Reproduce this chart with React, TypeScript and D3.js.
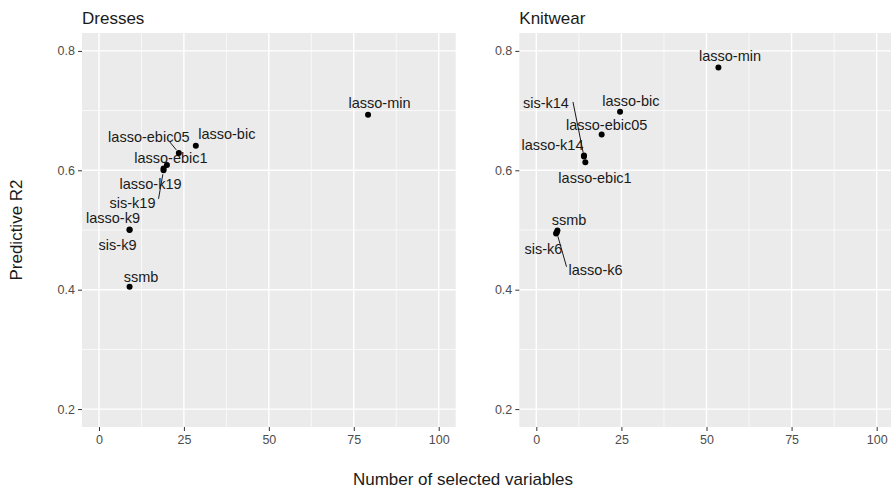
import React, { useEffect, useRef } from "react";
import * as d3 from "d3";

// facet titles
const panelTitles = ["Dresses", "Knitwear"];

// Dresses
const dressMethods = ["lasso-min", "lasso-bic", "lasso-ebic05", "lasso-ebic1", "lasso-k19", "sis-k19", "lasso-k9", "sis-k9", "ssmb"];
const dressVars = [79.2, 28.5, 23.5, 20, 19, 19, 9, 9, 9];
const dressR2 = [0.693, 0.641, 0.629, 0.609, 0.603, 0.6, 0.501, 0.5, 0.405];

// Knitwear
const knitMethods = ["lasso-min", "lasso-bic", "lasso-ebic05", "lasso-k14", "sis-k14", "lasso-ebic1", "ssmb", "sis-k6", "lasso-k6"];
const knitVars = [53.5, 24.6, 19.2, 14, 14, 14.4, 6.2, 5.8, 6];
const knitR2 = [0.772, 0.698, 0.66, 0.625, 0.623, 0.6135, 0.499, 0.494, 0.496];

const xTicks = [0, 25, 50, 75, 100];
const xMinor = [12.5, 37.5, 62.5, 87.5];
const yTicks = [0.2, 0.4, 0.6, 0.8];
const yMinor = [0.3, 0.5, 0.7];

// repel-like label placement: pixel offset of the label from its point,
// and where a leader segment attaches to the label (null = no segment)
type Nudge = [number, number, [number, number] | null];
const dressNudge: Nudge[] = [
  [11.5, -11.7, null], [31, -12, null], [-30, -16, [21, 5]], [4, -6.6, null], [-13, 15, null],
  [-31, 32.5, [26, -4]], [-16.6, -11, null], [-12, 14.6, null], [11.4, -10, null],
];
const knitNudge: Nudge[] = [
  [11.6, -12, null], [10.8, -11, null], [5, -10, null], [-31.5, -10.7, null], [-38, -53.6, [27, -1]],
  [9.7, 15.7, null], [11.6, -10.8, null], [-12.7, 15.2, null], [38.8, 37.4, [-29, -3]],
];

const W = 891;
const H = 489;
const FONT = "'Liberation Sans', Arial, sans-serif";
const panels = [
  { left: 82, right: 455.7, methods: dressMethods, xs: dressVars, ys: dressR2, nudge: dressNudge },
  { left: 519.3, right: 893.7, methods: knitMethods, xs: knitVars, ys: knitR2, nudge: knitNudge },
];
const top = 33;
const bottom = 427;

const App = () => {
  const ref = useRef<SVGSVGElement>(null);

  useEffect(() => {
    const svg = d3.select(ref.current);
    svg.selectAll("*").remove();
    svg.append("rect").attr("width", W).attr("height", H).attr("fill", "white");

    panels.forEach((p, pi) => {
      const x = d3.scaleLinear().domain([-5, 105]).range([p.left, p.right]);
      const y = d3.scaleLinear().domain([0.17, 0.83]).range([bottom, top]);
      const g = svg.append("g");

      g.append("rect")
        .attr("x", p.left).attr("y", top)
        .attr("width", p.right - p.left).attr("height", bottom - top)
        .attr("fill", "#EBEBEB");

      // minor grid
      g.selectAll(".xmin").data(xMinor).enter().append("line")
        .attr("x1", (d) => x(d)).attr("x2", (d) => x(d))
        .attr("y1", top).attr("y2", bottom)
        .attr("stroke", "white").attr("stroke-width", 0.7);
      g.selectAll(".ymin").data(yMinor).enter().append("line")
        .attr("x1", p.left).attr("x2", p.right)
        .attr("y1", (d) => y(d)).attr("y2", (d) => y(d))
        .attr("stroke", "white").attr("stroke-width", 0.7);
      // major grid
      g.selectAll(".xmaj").data(xTicks).enter().append("line")
        .attr("x1", (d) => x(d)).attr("x2", (d) => x(d))
        .attr("y1", top).attr("y2", bottom)
        .attr("stroke", "white").attr("stroke-width", 1.4);
      g.selectAll(".ymaj").data(yTicks).enter().append("line")
        .attr("x1", p.left).attr("x2", p.right)
        .attr("y1", (d) => y(d)).attr("y2", (d) => y(d))
        .attr("stroke", "white").attr("stroke-width", 1.4);

      // x axis
      const xAxis = g.append("g")
        .attr("transform", `translate(0,${bottom})`)
        .call(d3.axisBottom(x).tickValues(xTicks).tickSize(4).tickPadding(4).tickFormat(d3.format("d")));
      // y axis
      const yAxis = g.append("g")
        .attr("transform", `translate(${p.left},0)`)
        .call(d3.axisLeft(y).tickValues(yTicks).tickSize(4).tickPadding(3).tickFormat(d3.format(".1f")));
      [xAxis, yAxis].forEach((a) => {
        a.select(".domain").remove();
        a.selectAll(".tick line").attr("stroke", "#333333").attr("stroke-width", 1);
        a.selectAll(".tick text")
          .attr("fill", "#4D4D4D")
          .style("font-family", FONT)
          .style("font-size", "12.5px");
      });

      // facet title
      g.append("text")
        .attr("x", p.left).attr("y", 24)
        .attr("fill", "#1A1A1A")
        .style("font-family", FONT).style("font-size", "17px")
        .text(panelTitles[pi]);

      const pts = p.methods.map((m, i) => ({ m, px: x(p.xs[i]), py: y(p.ys[i]), n: p.nudge[i] }));

      // leader segments
      g.append("g").selectAll("line").data(pts.filter((d) => d.n[2])).enter().append("line")
        .each(function (d) {
          const lx = d.px + d.n[0] + d.n[2]![0];
          const ly = d.py + d.n[1] + d.n[2]![1];
          const len = Math.hypot(lx - d.px, ly - d.py);
          const s = 4 / len;
          d3.select(this)
            .attr("x1", d.px + (lx - d.px) * s).attr("y1", d.py + (ly - d.py) * s)
            .attr("x2", lx).attr("y2", ly);
        })
        .attr("stroke", "#1A1A1A").attr("stroke-width", 1);

      // labels
      g.append("g").selectAll("text").data(pts).enter().append("text")
        .attr("x", (d) => d.px + d.n[0]).attr("y", (d) => d.py + d.n[1])
        .attr("dy", "0.35em")
        .attr("text-anchor", "middle")
        .attr("fill", "#1A1A1A")
        .style("font-family", FONT).style("font-size", "14.5px")
        .text((d) => d.m);

      // points
      g.append("g").selectAll("circle").data(pts).enter().append("circle")
        .attr("cx", (d) => d.px).attr("cy", (d) => d.py)
        .attr("r", 3).attr("fill", "black");
    });

    // axis titles
    svg.append("text")
      .attr("x", 463).attr("y", 485)
      .attr("text-anchor", "middle")
      .attr("fill", "#1A1A1A")
      .style("font-family", FONT).style("font-size", "17px")
      .text("Number of selected variables");
    svg.append("text")
      .attr("transform", `translate(22,${(top + bottom) / 2}) rotate(-90)`)
      .attr("text-anchor", "middle")
      .attr("fill", "#1A1A1A")
      .style("font-family", FONT).style("font-size", "17px")
      .text("Predictive R2");
  }, []);

  return (
    <svg
      ref={ref}
      width={W}
      height={H}
      style={{ position: "absolute", left: 0, top: 0 }}
    />
  );
};

export default App;
